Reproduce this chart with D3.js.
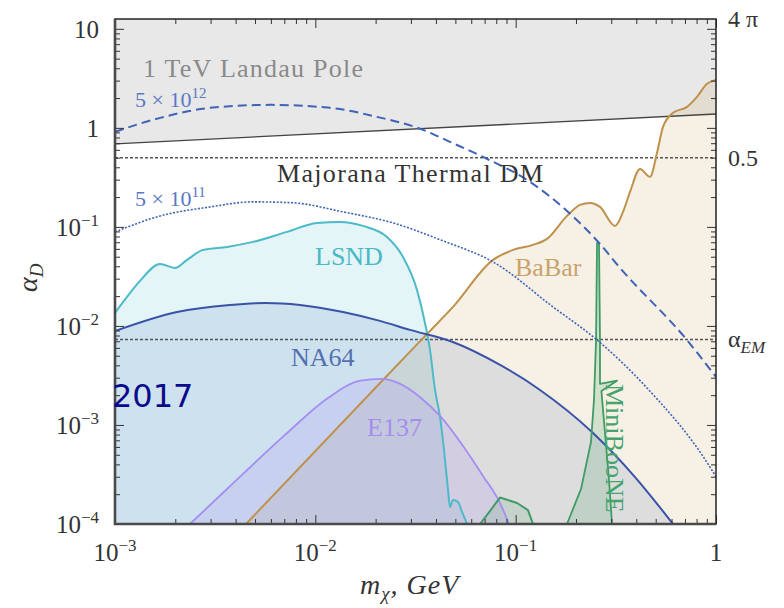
<!DOCTYPE html>
<html>
<head>
<meta charset="utf-8">
<script src="https://cdn.jsdelivr.net/npm/d3@7"></script>
<style>
  body { margin: 0; background: #fff; }
  svg { display: block; }
  text { font-family: "Liberation Serif", "Times New Roman", serif; }
</style>
</head>
<body>
<svg id="chart" width="784" height="608"></svg>
<script>
// ---- data: dark matter mass m_chi [GeV] vs dark coupling alpha_D ----
const landauPole = [[0.001, 0.689], [1, 1.38]];
const majoranaThermal = 0.5;
const alphaEM = 1 / 137;

const thermal5e12 = [[0.001,0.911],[0.00168,1.262],[0.00298,1.592],[0.00594,1.707],[0.01184,1.592],
  [0.0203,1.291],[0.0345,0.955],[0.047,0.722],[0.0687,0.509],[0.1179,0.2847],[0.1804,0.145],
  [0.2636,0.0673],[0.332,0.0385],[0.7166,0.0072],[1,0.00305]];

const thermal5e11 = [[0.001,0.0889],[0.00168,0.129],[0.00298,0.159],[0.00489,0.179],[0.00774,0.175],
  [0.01374,0.1417],[0.0244,0.1097],[0.0434,0.0722],[0.0771,0.0443],[0.1536,0.01556],[0.2547,0.00722],
  [0.4523,0.002364],[0.9226,0.00039],[1,0.0003]];

const lsnd = [[0.001,0.01353],[0.001148,0.01963],[0.001333,0.02847],[0.001678,0.04228],[0.001993,0.03853],
  [0.002288,0.04642],[0.002749,0.05857],[0.003624,0.06281],[0.004886,0.07056],[0.007222,0.08902],
  [0.010193,0.1097],[0.013277,0.1123],[0.017298,0.1023],[0.02279,0.07925],[0.02739,0.04977],
  [0.03217,0.0231],[0.03527,0.01072],[0.03736,0.005722],[0.03957,0.002257],[0.04191,0.001205],
  [0.04388,0.000559],[0.04596,0.0002206],[0.04702,0.0001485],[0.04866,0.0001748],[0.05155,0.0001668],
  [0.05398,0.0001322],[0.05716,0.0001]];

const na64 = [[0.001,0.00889],[0.00204,0.01384],[0.00375,0.0163],[0.00567,0.01706],[0.00838,0.0163],
  [0.01374,0.01384],[0.021,0.01125],[0.0297,0.00912],[0.0486,0.00689],[0.0836,0.00404],
  [0.1323,0.002257],[0.2433,0.00083],[0.3942,0.000298],[0.6101,0.0001]];

const e137 = [[0.002368,0.0001],[0.003624,0.0002257],[0.007058,0.000793],[0.01157,0.001874],
  [0.01652,0.002782],[0.02151,0.002915],[0.02587,0.002656],[0.0337,0.001874],[0.04191,0.001233],
  [0.05461,0.000614],[0.0687,0.0003053],[0.0835,0.000163],[0.09262,0.0001]];

const babar = [[0.004508,0.0001],[0.02151,0.002782],[0.03694,0.008698],[0.04866,0.01555],
  [0.07704,0.04642],[0.09698,0.05857],[0.1221,0.06579],[0.1433,0.07565],[0.1804,0.1292],
  [0.2096,0.1668],[0.235,0.1748],[0.2636,0.1592],[0.3132,0.1023],[0.3434,0.1417],[0.3723,0.2258],
  [0.4176,0.3853],[0.4684,0.32],[0.5077,0.5592],[0.5438,1.0235],[0.6101,1.4177],[0.7166,1.6298],
  [0.8039,2.0565],[0.9018,2.7826],[1,3.0533]];

const minibooneLow = [[0.06637,0.0001],[0.0744,0.000135],[0.0835,0.000185],[0.1016,0.000163],
  [0.1152,0.000138],[0.1221,0.0001]];

const minibooneSpike = [[0.1804,0.0001],[0.212,0.000226],[0.2377,0.000673],[0.246,0.00179],
  [0.2519,0.00722],[0.2548,0.0689],[0.2606,0.0689],[0.2636,0.00722],[0.2636,0.0026],[0.3204,0.0028],
  [0.268,0.0022],[0.2792,0.00083],[0.2923,0.000278],[0.3027,0.0001]];

// tick labels
const xTickValues = [1e-3, 1e-2, 1e-1, 1];
const xTickLabels = [["10","\u22123"],["10","\u22122"],["10","\u22121"],["1",""]];
const yTickValues = [1e-4, 1e-3, 1e-2, 1e-1, 1, 10];
const yTickLabels = [["10","\u22124"],["10","\u22123"],["10","\u22122"],["10","\u22121"],["1",""],["10",""]];

// ---- scales ----
const svg = d3.select("#chart");
const x = d3.scaleLog().domain([1e-3, 1]).range([115, 716]);
const y = d3.scaleLog().domain([1e-4, 4 * Math.PI]).range([524, 19]);
const [x0, x1] = x.range();
const [yb, yt] = y.range();

svg.append("defs").append("clipPath").attr("id", "plotClip")
  .append("rect").attr("x", x0).attr("y", yt).attr("width", x1 - x0).attr("height", yb - yt);

const plot = svg.append("g").attr("clip-path", "url(#plotClip)");

const smooth = d3.curveMonotoneX;
const line = d3.line().x(d => x(d[0])).y(d => y(d[1])).curve(smooth);
const areaBelow = d3.area().x(d => x(d[0])).y0(yb).y1(d => y(d[1])).curve(smooth);
const areaAbove = d3.area().x(d => x(d[0])).y0(yt).y1(d => y(d[1]));
const polygon = d3.line().x(d => x(d[0])).y(d => y(d[1])).curve(d3.curveLinearClosed);
const polyline = d3.line().x(d => x(d[0])).y(d => y(d[1]));

// ---- filled regions ----
plot.append("path").attr("d", areaAbove(landauPole)).attr("fill", "#e8e8e8");
plot.append("path").attr("d", areaBelow(lsnd)).attr("fill", "#4bbfcc").attr("fill-opacity", 0.15);
plot.append("path").attr("d", areaBelow(babar)).attr("fill", "#c8a060").attr("fill-opacity", 0.16);
plot.append("path").attr("d", areaBelow(na64)).attr("fill", "#3f5fae").attr("fill-opacity", 0.13);
plot.append("path").attr("d", areaBelow(e137)).attr("fill", "#a890f5").attr("fill-opacity", 0.2);
plot.append("path").attr("d", areaBelow(minibooneLow)).attr("fill", "#3a9a60").attr("fill-opacity", 0.15);
plot.append("path").attr("d", polygon(minibooneSpike)).attr("fill", "#3a9a60").attr("fill-opacity", 0.18);

// ---- reference lines ----
plot.append("path").attr("d", polyline(landauPole)).attr("fill", "none")
  .attr("stroke", "#444").attr("stroke-width", 1.3);
[majoranaThermal, alphaEM].forEach(v => {
  plot.append("path").attr("d", polyline([[x.domain()[0], v], [x.domain()[1], v]]))
    .attr("fill", "none").attr("stroke", "#555").attr("stroke-width", 1.5)
    .attr("stroke-dasharray", "3,2");
});

// ---- curves ----
const stroke = (data, color, width, dash, gen = line) => {
  const p = plot.append("path").attr("d", gen(data)).attr("fill", "none")
    .attr("stroke", color).attr("stroke-width", width).attr("stroke-linejoin", "round");
  if (dash) p.attr("stroke-dasharray", dash);
  return p;
};
stroke(lsnd, "#4cbac8", 2);
stroke(babar, "#c0914c", 2);
stroke(na64, "#3953a8", 2);
stroke(e137, "#a68cf4", 1.8);
stroke(minibooneLow, "#3f9c66", 2, null, polyline);
stroke(minibooneSpike, "#3f9c66", 1.8, null, polygon);
stroke(thermal5e12, "#3f63b8", 2, "9,5");
stroke(thermal5e11, "#3f63b8", 1.6, "2,1.6");

// ---- axes: inward ticks on all four sides ----
const xMinor = d3.range(-3, 0).flatMap(e => d3.range(2, 10).map(k => k * Math.pow(10, e)));
const yMinor = d3.range(-4, 1).flatMap(e => d3.range(2, 10).map(k => k * Math.pow(10, e)));
const axes = [
  [d3.axisBottom(x), `translate(0,${yb})`, xTickValues, xMinor],
  [d3.axisTop(x), `translate(0,${yt})`, xTickValues, xMinor],
  [d3.axisLeft(y), `translate(${x0},0)`, yTickValues, yMinor],
  [d3.axisRight(y), `translate(${x1},0)`, yTickValues, yMinor]
];
axes.forEach(([ax, tr, major, minor]) => {
  [[minor, 5], [major, 9]].forEach(([vals, len]) => {
    svg.append("g").attr("transform", tr)
      .call(ax.tickValues(vals).tickSize(-len).tickFormat(""))
      .call(g => g.select(".domain").remove())
      .selectAll("line").attr("stroke", "#333").attr("stroke-width", 1);
  });
});

// frame
svg.append("rect").attr("x", x0).attr("y", yt).attr("width", x1 - x0).attr("height", yb - yt)
  .attr("fill", "none").attr("stroke", "#222").attr("stroke-width", 1.5);
svg.append("path").attr("d", `M${x0},${yt}V${yb}H${x1}`).attr("fill", "none")
  .attr("stroke", "#4a4a4a").attr("stroke-width", 2.6);

// tick labels
const tickLabel = (sel, lab) => {
  sel.append("tspan").text(lab[0]);
  if (lab[1]) sel.append("tspan").attr("font-size", 17).attr("dy", -10).text(lab[1]);
};
xTickValues.forEach((v, i) => {
  svg.append("text").attr("x", x(v)).attr("y", 561).attr("text-anchor", "middle")
    .attr("font-size", 25).attr("fill", "#333").call(tickLabel, xTickLabels[i]);
});
yTickValues.forEach((v, i) => {
  svg.append("text").attr("x", 99).attr("y", y(v) + 9).attr("text-anchor", "end")
    .attr("font-size", 25).attr("fill", "#333").call(tickLabel, yTickLabels[i]);
});

// right-hand reference values
const rightLabels = [[4 * Math.PI, "4 \u03c0", ""], [majoranaThermal, "0.5", ""], [alphaEM, "\u03b1", "EM"]];
rightLabels.forEach(([v, main, sub]) => {
  const t = svg.append("text").attr("x", 728).attr("y", y(v) + 8)
    .attr("font-size", 24).attr("fill", "#333");
  t.append("tspan").text(main);
  if (sub) t.append("tspan").attr("font-size", 17).attr("font-style", "italic").attr("dy", 6).text(sub);
});

// axis titles
const xt = svg.append("text").attr("x", 360).attr("y", 594).attr("font-size", 28)
  .attr("font-style", "italic").attr("fill", "#333").attr("letter-spacing", 1);
xt.append("tspan").text("m");
xt.append("tspan").attr("font-size", 19).attr("dy", 6).text("\u03c7");
xt.append("tspan").attr("dy", -6).text(", GeV");

const yt2 = svg.append("text").attr("transform", "translate(37,292) rotate(-90)")
  .attr("font-size", 28).attr("font-style", "italic").attr("fill", "#333");
yt2.append("tspan").text("\u03b1");
yt2.append("tspan").attr("font-size", 19).attr("dy", 6).text("D");

// region labels
const label = (txt, px, py, color, size, len) => {
  const t = svg.append("text").attr("x", px).attr("y", py).attr("font-size", size)
    .attr("fill", color).text(txt);
  if (len) t.attr("textLength", len).attr("lengthAdjust", "spacing");
  return t;
};
label("1 TeV Landau Pole", 143, 77, "#8a8a8a", 26, 220);
label("Majorana Thermal DM", 277, 182, "#333", 26, 266);
label("LSND", 315, 265, "#4ab8c6", 26);
label("BaBar", 515, 276, "#c8a36b", 26);
label("NA64", 291, 366, "#5470ae", 26);
label("E137", 367, 436, "#a58df0", 26);
svg.append("text").attr("transform", "translate(606,384) rotate(90)")
  .attr("font-size", 26).attr("fill", "#45a46c").text("MiniBooNE");

const powLabel = (base, exp, px, py) => {
  const t = svg.append("text").attr("x", px).attr("y", py).attr("font-size", 22).attr("fill", "#5a78c4");
  t.append("tspan").text(base);
  t.append("tspan").attr("font-size", 15).attr("dy", -9).text(exp);
};
powLabel("5 \u00d7 10", "12", 135, 107);
powLabel("5 \u00d7 10", "11", 135, 206);

// year stamp
svg.append("text").attr("x", 112).attr("y", 407).attr("font-size", 32)
  .style("font-family", "'DejaVu Sans', sans-serif").attr("fill", "#0a0a8c").text("2017");
</script>
</body>
</html>
